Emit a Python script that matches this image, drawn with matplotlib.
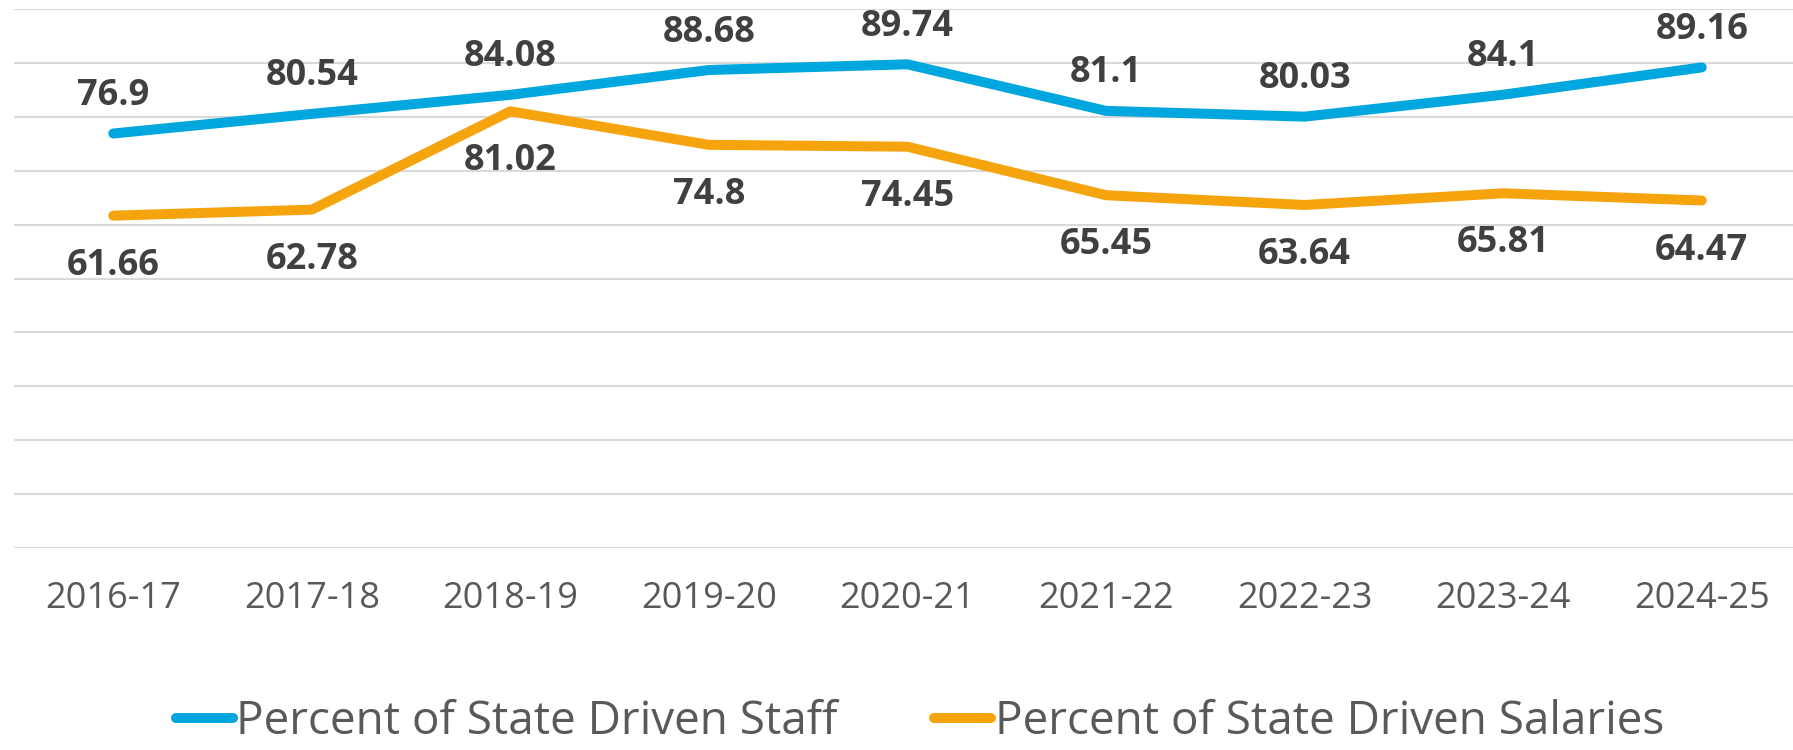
import matplotlib.pyplot as plt

# data
years = ['2016-17', '2017-18', '2018-19', '2019-20', '2020-21',
         '2021-22', '2022-23', '2023-24', '2024-25']
staff = [76.9, 80.54, 84.08, 88.68, 89.74, 81.1, 80.03, 84.1, 89.16]
salaries = [61.66, 62.78, 81.02, 74.8, 74.45, 65.45, 63.64, 65.81, 64.47]

blue = '#00A6DE'
orange = '#F6A40E'

plt.rcParams['font.family'] = ['Open Sans', 'DejaVu Sans']

fig = plt.figure(figsize=(17.93, 7.5), dpi=100)
ax = fig.add_axes([14 / 1793, 1 - 548 / 750, 1787 / 1793, 539 / 750])

x = list(range(len(years)))
ax.plot(x, staff, color=blue, lw=7.2, solid_capstyle='round',
        solid_joinstyle='round', label='Percent of State Driven Staff', zorder=3)
ax.plot(x, salaries, color=orange, lw=7.2, solid_capstyle='round',
        solid_joinstyle='round', label='Percent of State Driven Salaries', zorder=3)

# value labels: staff above, salaries below
for xi, v in zip(x, staff):
    ax.annotate(f'{v:g}', (xi, v), xytext=(0, 27), textcoords='offset points',
                ha='center', va='center', fontsize=26, fontweight='bold', color='#404040')
for xi, v in zip(x, salaries):
    ax.annotate(f'{v:g}', (xi, v), xytext=(0, -36), textcoords='offset points',
                ha='center', va='center', fontsize=26, fontweight='bold', color='#404040')

ax.set_xlim(-0.5, 8.5)
ax.set_ylim(0, 100)
ax.set_yticks(range(0, 101, 10))
ax.set_yticklabels([])
ax.set_xticks(x)
ax.set_xticklabels(years, fontsize=26, color='#595959')
ax.tick_params(length=0, pad=24)
ax.grid(axis='y', color='#D9D9D9', lw=1.5)
ax.set_axisbelow(True)
for s in ax.spines.values():
    s.set_visible(False)

fig.legend(loc='center', bbox_to_anchor=(920 / 1793, 1 - 722 / 750), ncol=2,
           frameon=False, fontsize=33, labelcolor='#595959',
           handlelength=1.25, handletextpad=0.07, columnspacing=2.1)

fig.savefig('out.png', dpi=100)
